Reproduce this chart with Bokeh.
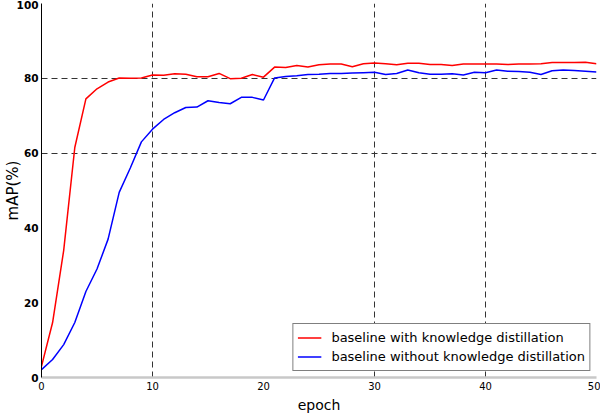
from bokeh.plotting import figure
from bokeh.models import FixedTicker, Range1d
from bokeh.embed import file_html
from bokeh.resources import INLINE

epochs = list(range(0, 51))
with_kd = [3.0, 14.7, 34.0, 61.5, 74.5, 77.2, 79.0, 80.1, 80.0, 80.1,
           80.9, 80.8, 81.2, 81.1, 80.4, 80.4, 81.3, 79.9, 80.0, 81.0,
           80.3, 83.0, 82.9, 83.4, 83.0, 83.6, 83.8, 83.8, 83.1, 83.9,
           84.1, 83.9, 83.6, 84.0, 84.0, 83.7, 83.7, 83.4, 83.8, 83.8,
           83.8, 83.8, 83.7, 83.8, 83.8, 83.9, 84.2, 84.2, 84.2, 84.3,
           83.9]
without_kd = [2.1, 4.8, 8.8, 14.7, 23.0, 29.0, 37.0, 49.5, 56.0, 63.0,
              66.4, 69.0, 70.8, 72.2, 72.3, 74.0, 73.5, 73.2, 74.9, 74.9,
              74.2, 80.1, 80.5, 80.7, 81.0, 81.1, 81.3, 81.3, 81.4, 81.5,
              81.6, 81.0, 81.3, 82.2, 81.5, 81.1, 81.1, 81.2, 80.9, 81.6,
              81.5, 82.2, 81.9, 81.8, 81.6, 81.0, 82.0, 82.2, 82.1, 81.9,
              81.7]
x_ticks = [0, 10, 20, 30, 40, 50]
y_ticks = [0, 20, 40, 60, 80, 100]
x_grid = [10, 30, 40]
y_grid = [60, 80]
labels = ["baseline with knowledge distillation",
          "baseline without knowledge distillation"]

p = figure(frame_width=555, frame_height=374, output_backend="svg",
           toolbar_location=None,
           x_range=Range1d(0, 50), y_range=Range1d(0, 100),
           min_border_left=0, min_border_right=4, min_border_top=3,
           min_border_bottom=0)
p.outline_line_color = None
p.background_fill_color = "white"
p.border_fill_color = "white"

p.xaxis.ticker = FixedTicker(ticks=x_ticks)
p.yaxis.ticker = FixedTicker(ticks=y_ticks)
p.xgrid.ticker = FixedTicker(ticks=x_grid)
p.ygrid.ticker = FixedTicker(ticks=y_grid)
for g in (p.xgrid, p.ygrid):
    g.grid_line_color = "#333333"
    g.grid_line_dash = "6 4"
    g.grid_line_width = 1

for ax in (p.xaxis, p.yaxis):
    ax.major_tick_line_color = None
    ax.minor_tick_line_color = None
    ax.major_tick_out = 0
    ax.major_tick_in = 0
    ax.major_label_text_font = "DejaVu Sans"
    ax.major_label_text_color = "black"
    ax.axis_label_text_font = "DejaVu Sans"
    ax.axis_label_text_font_style = "normal"
    ax.axis_label_text_color = "black"

p.xaxis.axis_line_color = "#c8c8c8"
p.xaxis.axis_line_width = 2.5
p.xaxis.major_label_text_font_size = "10px"
p.xaxis.major_label_standoff = 4
p.xaxis.axis_label = "epoch"
p.xaxis.axis_label_text_font_size = "14px"
p.xaxis.axis_label_standoff = 4

p.yaxis.axis_line_color = "black"
p.yaxis.axis_line_width = 1
p.yaxis.major_label_text_font_size = "10.5px"
p.yaxis.major_label_text_font_style = "bold"
p.yaxis.major_label_standoff = 3
p.yaxis.axis_label = "mAP(%)"
p.yaxis.axis_label_text_font_size = "15px"
p.yaxis.axis_label_standoff = -8

p.line(epochs, with_kd, line_color="#ff0000", line_width=1.5, legend_label=labels[0])
p.line(epochs, without_kd, line_color="#0000ff", line_width=1.5, legend_label=labels[1])

lg = p.legend[0]
lg.location = "bottom_right"
lg.margin = 6
lg.padding = 4
lg.spacing = 0
lg.glyph_width = 24
lg.glyph_height = 19
lg.label_height = 19
lg.label_standoff = 10
lg.label_text_font = "DejaVu Sans"
lg.label_text_font_size = "13px"
lg.label_text_color = "black"
lg.border_line_color = "black"
lg.border_line_width = 1
lg.background_fill_alpha = 1.0

open("out.html", "w").write(file_html(p, INLINE))
